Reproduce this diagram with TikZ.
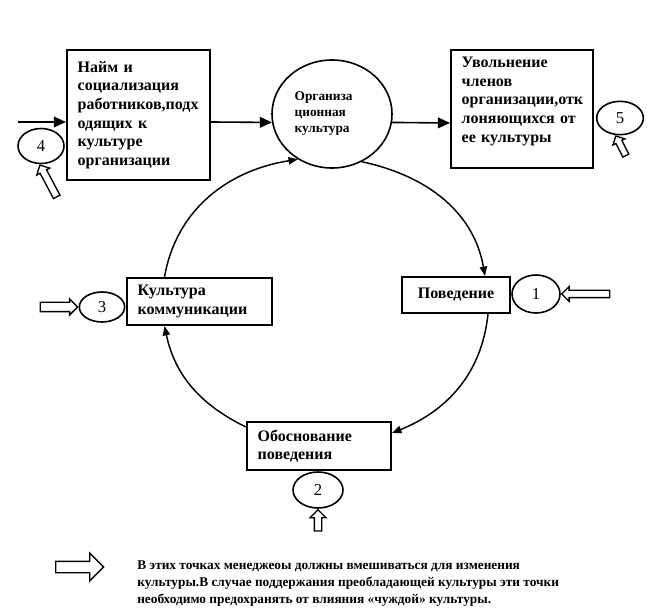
\documentclass[tikz,border=0pt]{standalone}
\usepackage{fontspec}
\setmainfont{Liberation Serif}
\usetikzlibrary{positioning,arrows.meta,calc,shapes.geometric,shapes.arrows}
\tikzset{
    block/.style = {
        draw,
        shape=rectangle,
        align=left,
        inner xsep=8pt,
        inner ysep=0pt,
        line width=1.6pt,
        font=\fontsize{12}{13.9}\selectfont\bfseries
    },
    culture/.style = {
        draw,
        shape=ellipse,
        minimum width=90pt,
        minimum height=81pt,
        inner sep=0pt,
        align=left,
        line width=1.2pt,
        font=\fontsize{10}{12}\selectfont\bfseries
    },
    marker/.style = {
        draw,
        shape=ellipse,
        inner sep=0pt,
        line width=1.2pt,
        font=\fontsize{12.5}{14}\selectfont
    },
    hollow/.style = {
        draw,
        shape=single arrow,
        single arrow head indent=0pt,
        line width=1pt
    },
    link/.style = {
        line width=1.1pt,
        -{Triangle[length=7pt,width=5.5pt]}
    },
    >={Triangle[length=9pt,width=8pt]},
}

\begin{document}
\begin{tikzpicture}[x=0.75pt,y=0.75pt]
            \useasboundingbox (0,0) rectangle (655,614);

            \node[block, text width=91.25pt, minimum height=97.5pt] (hire) at (138.5,499)
            {Найм и\\ социализация\\ работников,подх\\ одящих к\\ культуре\\ организации};
            \node[culture, text width=56pt] (org) at (332,500) {Организа\\ ционная\\ культура};
            \node[block, text width=90.5pt, minimum height=88.5pt] (fire) at (522,505)
            {Увольнение\\ членов\\ организации,отк\\ лоняющихся от\\ ее культуры\\ \mbox{}};
            \node[block, text width=92.75pt, minimum height=35.25pt] (comm) at (199.5,312.5)
            {Культура\\ коммуникации};
            \node[block, align=center, text width=65pt, minimum height=27pt] (behav) at (456,319)
            {Поведение};
            \node[block, text width=92pt, minimum height=36pt] (reason) at (319,168)
            {Обоснование\\ поведения};

            \node[marker, minimum width=36pt, minimum height=28.5pt] (m1) at (536,320) {1};
            \node[marker, minimum width=37.5pt, minimum height=27pt] (m2) at (318,124) {2};
            \node[marker, minimum width=34pt, minimum height=22.5pt] (m3) at (102,307) {3};
            \node[marker, minimum width=34.5pt, minimum height=26.25pt] (m4) at (41,468) {4};
            \node[marker, minimum width=35pt, minimum height=25pt] (m5) at (620,496) {5};

            \coordinate (in4) at (18,492);
            \path[draw, line width=1.2pt, ->] (in4) -- (in4 -| hire.west);
            \path[draw, line width=1.2pt, ->] ($(hire.east)+(0,-7)$) -- (org.188);
            \path[draw, line width=1.2pt, ->] (org.352) -- ($(fire.west)+(0,-14)$);

            % cycle
            \path[draw, link] ($(comm.north)+(-35,0)$) to[out=80, in=189] (org.233);
            \path[draw, link] (org.302) to[out=-12, in=100] ($(behav.north)+(29,0)$);
            \path[draw, link] ($(behav.south)+(32,0)$) to[out=-96, in=22] ($(reason.east)+(0,13)$);
            \path[draw, link] ($(reason.west)+(0,19)$) to[out=154, in=-78] ($(comm.south)+(-35,0)$);

            % points of intervention
            \node[hollow, minimum height=36pt, inner sep=2.25pt, single arrow head extend=2.75pt,
                rotate=180, anchor=tip] (p1) at (m1.east) {};
            \node[hollow, minimum height=16pt, inner sep=2.25pt, single arrow head extend=3.25pt,
                rotate=90, anchor=tip] (p2) at (m2.south) {};
            \node[hollow, minimum height=28pt, inner sep=3pt, single arrow head extend=2.5pt,
                anchor=tip] (p3) at (m3.west) {};
            \node[hollow, minimum height=27pt, inner sep=2.25pt, single arrow head extend=2.75pt,
                rotate=118, anchor=tip] (p4) at (m4.265) {};
            \node[hollow, minimum height=16.5pt, inner sep=2pt, single arrow head extend=2.5pt,
                rotate=117, anchor=tip] (p5) at (m5.255) {};

            % key
            \node[hollow, minimum height=36pt, inner sep=3.75pt, single arrow head extend=6.25pt,
                anchor=tail] (key) at (55,47) {};
            \node[anchor=base west, align=left, inner sep=0pt,
                font=\fontsize{10}{12.4}\selectfont\bfseries] (note) at (137,11)
            {В этих точках менеджеоы должны вмешиваться для изменения\\
            культуры.В случае поддержания преобладающей культуры эти точки\\
            необходимо предохранять от влияния «чуждой» культуры.};
        \end{tikzpicture}
\end{document}
